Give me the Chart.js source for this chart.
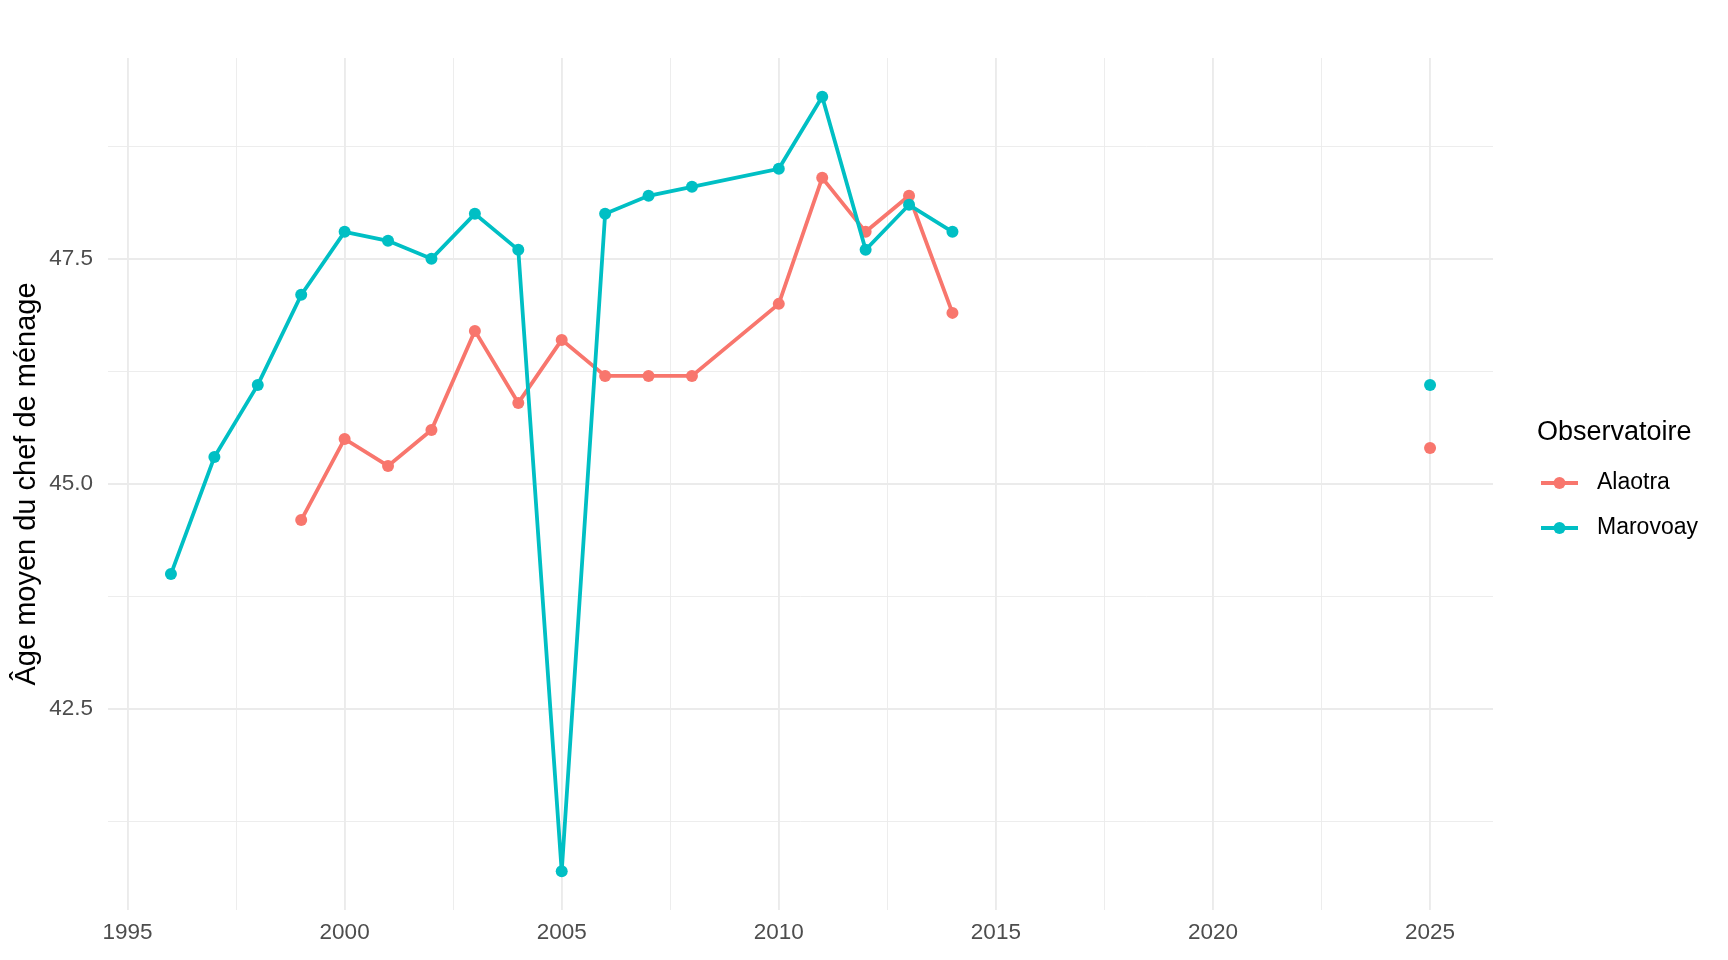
<!DOCTYPE html>
<html>
<head>
<meta charset="utf-8">
<script src="https://cdn.jsdelivr.net/npm/chart.js@4"></script>
<style>
  body { margin: 0; background: #fff; }
  #wrap { width: 1728px; height: 960px; }
</style>
</head>
<body>
<div id="wrap"><canvas id="chart"></canvas></div>
<script>
// Données
const years = [1996, 1997, 1998, 1999, 2000, 2001, 2002, 2003, 2004, 2005, 2006, 2007, 2008, 2010, 2011, 2012, 2013, 2014, 2025];
const alaotra = [null, null, null, 44.6, 45.5, 45.2, 45.6, 46.7, 45.9, 46.6, 46.2, 46.2, 46.2, 47.0, 48.4, 47.8, 48.2, 46.9, 45.4];
const marovoay = [44.0, 45.3, 46.1, 47.1, 47.8, 47.7, 47.5, 48.0, 47.6, 40.7, 48.0, 48.2, 48.3, 48.5, 49.3, 47.6, 48.1, 47.8, 46.1];
const seriesNames = ['Alaotra', 'Marovoay'];
const seriesColors = ['#F8766D', '#00BFC4'];
const legendTitle = 'Observatoire';
const yTitle = 'Âge moyen du chef de ménage';

const FONT = "'Liberation Sans', Arial, sans-serif";

// ggplot-like 5% expansion
function expand(vals) {
    const v = vals.filter(x => x !== null);
    const lo = Math.min(...v), hi = Math.max(...v);
    const pad = (hi - lo) * 0.05;
    return [lo - pad, hi + pad];
}
const xr = expand(years);
const yr = expand(alaotra.concat(marovoay));

function toPoints(vals) {
    return years.map((y, i) => ({ x: y, y: vals[i] }));
}

const isMult = (v, s) => Math.abs(v / s - Math.round(v / s)) < 1e-6;

// no line across the 2014 -> 2025 gap
const gapSegment = {
    borderColor: ctx => (ctx.p1.parsed.x - ctx.p0.parsed.x > 5 ? 'transparent' : undefined)
};

const ggLegend = {
    id: 'ggLegend',
    afterDraw(chart) {
        const { ctx, chartArea } = chart;
        const cy = (chartArea.top + chartArea.bottom) / 2;
        const x0 = chartArea.right + 44;
        ctx.save();
        ctx.fillStyle = '#000';
        ctx.textBaseline = 'middle';
        ctx.textAlign = 'left';
        ctx.font = '27px ' + FONT;
        ctx.fillText(legendTitle, x0, cy - 51);
        ctx.font = '23px ' + FONT;
        seriesNames.forEach((name, i) => {
            const y = cy - 1 + i * 45;
            ctx.strokeStyle = seriesColors[i];
            ctx.lineWidth = 3.8;
            ctx.beginPath();
            ctx.moveTo(x0 + 4, y);
            ctx.lineTo(x0 + 41, y);
            ctx.stroke();
            ctx.fillStyle = seriesColors[i];
            ctx.beginPath();
            ctx.arc(x0 + 22.5, y, 6, 0, Math.PI * 2);
            ctx.fill();
            ctx.fillStyle = '#000';
            ctx.fillText(name, x0 + 60, y);
        });
        ctx.restore();
    }
};

new Chart(document.getElementById('chart'), {
    type: 'line',
    data: {
        datasets: [{
            label: seriesNames[0],
            data: toPoints(alaotra),
            borderColor: seriesColors[0],
            backgroundColor: seriesColors[0],
            borderWidth: 3.8,
            pointRadius: 6,
            pointBorderWidth: 0,
            pointBackgroundColor: seriesColors[0],
            segment: gapSegment,
            order: 1
        }, {
            label: seriesNames[1],
            data: toPoints(marovoay),
            borderColor: seriesColors[1],
            backgroundColor: seriesColors[1],
            borderWidth: 3.8,
            pointRadius: 6,
            pointBorderWidth: 0,
            pointBackgroundColor: seriesColors[1],
            segment: gapSegment,
            order: 0
        }]
    },
    options: {
        responsive: true,
        maintainAspectRatio: false,
        animation: false,
        layout: { padding: { top: 58, right: 235, bottom: 0, left: 0 } },
        plugins: {
            legend: { display: false },
            tooltip: { enabled: false }
        },
        scales: {
            x: {
                type: 'linear',
                min: xr[0],
                max: xr[1],
                afterFit: s => { s.height = 50; },
                border: { display: false },
                grid: {
                    color: '#EBEBEB',
                    drawTicks: false,
                    lineWidth: c => (isMult(c.tick.value, 5) ? 1.9 : 0.9)
                },
                ticks: {
                    stepSize: 2.5,
                    includeBounds: false,
                    autoSkip: false,
                    maxRotation: 0,
                    padding: 9,
                    color: '#4D4D4D',
                    font: { family: FONT, size: 22.5 },
                    callback: v => (isMult(v, 5) ? String(v) : '')
                }
            },
            y: {
                min: yr[0],
                max: yr[1],
                afterFit: s => { s.width = 108; },
                border: { display: false },
                grid: {
                    color: '#EBEBEB',
                    drawTicks: false,
                    lineWidth: c => (isMult(c.tick.value, 2.5) ? 1.9 : 0.9)
                },
                ticks: {
                    stepSize: 1.25,
                    includeBounds: false,
                    padding: 15,
                    color: '#4D4D4D',
                    font: { family: FONT, size: 22.5 },
                    callback: v => (isMult(v, 2.5) ? v.toFixed(1) : '')
                },
                title: {
                    display: true,
                    text: yTitle,
                    color: '#000',
                    padding: { top: 10, bottom: 0 },
                    font: { family: FONT, size: 29 }
                }
            }
        }
    },
    plugins: [ggLegend]
});
</script>
</body>
</html>
